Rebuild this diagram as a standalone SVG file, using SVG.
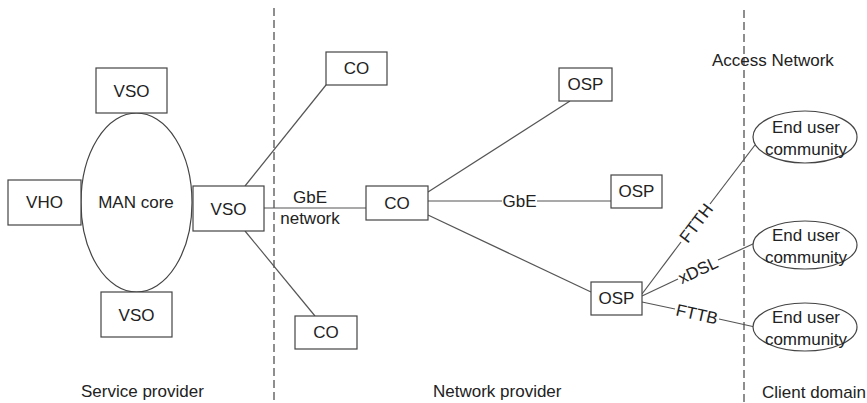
<svg xmlns="http://www.w3.org/2000/svg" width="867" height="403" viewBox="0 0 867 403">
<style>
.box{fill:#fff;stroke:#444;stroke-width:1.2}
.ell{fill:#fff;stroke:#444;stroke-width:1.2}
.ln{stroke:#555;stroke-width:1.2;fill:none}
.dash{stroke:#444;stroke-width:1.2;stroke-dasharray:8,4;fill:none}
text{font-family:"Liberation Sans",Arial,sans-serif;font-size:17px;fill:#222}
.m{text-anchor:middle}
</style>
<rect width="867" height="403" fill="#fff"/>
<g id="boundaries">
<line class="dash" x1="274" y1="8" x2="274" y2="403"/>
<line class="dash" x1="744" y1="10" x2="744" y2="403"/>
</g>
<g id="connectors">
<line class="ln" x1="245" y1="186" x2="326" y2="85"/>
<line class="ln" x1="245" y1="231" x2="315" y2="316"/>
<line class="ln" x1="264" y1="208" x2="366" y2="208"/>
<line class="ln" x1="428" y1="192" x2="570" y2="101"/>
<line class="ln" x1="428" y1="201" x2="502" y2="201"/>
<line class="ln" x1="537" y1="201" x2="611" y2="201"/>
<line class="ln" x1="428" y1="215" x2="591" y2="292"/>
<line class="ln" x1="642" y1="294" x2="681" y2="242"/>
<line class="ln" x1="710" y1="204" x2="755" y2="145"/>
<line class="ln" x1="642" y1="296" x2="678" y2="279"/>
<line class="ln" x1="718" y1="260" x2="755" y2="243"/>
<line class="ln" x1="642" y1="302" x2="675" y2="309"/>
<line class="ln" x1="719" y1="319" x2="755" y2="327"/>
<text x="310" y="203" class="m">GbE</text>
<text x="310" y="224" class="m">network</text>
<text x="519.5" y="207" class="m">GbE</text>
<text class="m" transform="translate(696,223) rotate(-52.8)" dy="6">FTTH</text>
<text class="m" transform="translate(698,270) rotate(-25.1)" dy="6">xDSL</text>
<text class="m" transform="translate(697,314) rotate(12.5)" dy="6">FTTB</text>
</g>
<g id="man-core"><ellipse class="ell" cx="136.5" cy="202.5" rx="55.5" ry="89.5"/><text x="136" y="208" class="m">MAN core</text></g>
<g id="vso-top"><rect class="box" x="96" y="68" width="71" height="45"/><text x="131.5" y="97" class="m">VSO</text></g>
<g id="vho"><rect class="box" x="8" y="180" width="73" height="45"/><text x="44.5" y="208" class="m">VHO</text></g>
<g id="vso-right"><rect class="box" x="193" y="186" width="71" height="45"/><text x="228.5" y="215" class="m">VSO</text></g>
<g id="vso-bottom"><rect class="box" x="101" y="292" width="71" height="45"/><text x="136.5" y="321" class="m">VSO</text></g>
<g id="co-top"><rect class="box" x="326" y="52" width="61" height="33"/><text x="356.5" y="74" class="m">CO</text></g>
<g id="co-mid"><rect class="box" x="366" y="186" width="62" height="34"/><text x="397" y="209" class="m">CO</text></g>
<g id="co-bottom"><rect class="box" x="295" y="316" width="62" height="33"/><text x="326" y="338" class="m">CO</text></g>
<g id="osp-top"><rect class="box" x="559" y="68" width="53" height="33"/><text x="585.5" y="90" class="m">OSP</text></g>
<g id="osp-mid"><rect class="box" x="611" y="175" width="51" height="33"/><text x="636.5" y="197" class="m">OSP</text></g>
<g id="osp-bottom"><rect class="box" x="591" y="282" width="51" height="33"/><text x="616.5" y="304" class="m">OSP</text></g>
<g id="end-user-1"><ellipse class="ell" cx="805" cy="137" rx="52" ry="26"/><text x="806" y="133" class="m">End user</text><text x="806" y="155" class="m">community</text></g>
<g id="end-user-2"><ellipse class="ell" cx="805" cy="245" rx="52" ry="24"/><text x="806" y="241" class="m">End user</text><text x="806" y="263" class="m">community</text></g>
<g id="end-user-3"><ellipse class="ell" cx="805" cy="327" rx="52" ry="24"/><text x="806" y="323" class="m">End user</text><text x="806" y="345" class="m">community</text></g>
<g id="labels">
<text x="712" y="66">Access Network</text>
<text x="81" y="397">Service provider</text>
<text x="433" y="397">Network provider</text>
<text x="762" y="398">Client domain</text>
</g>
</svg>
